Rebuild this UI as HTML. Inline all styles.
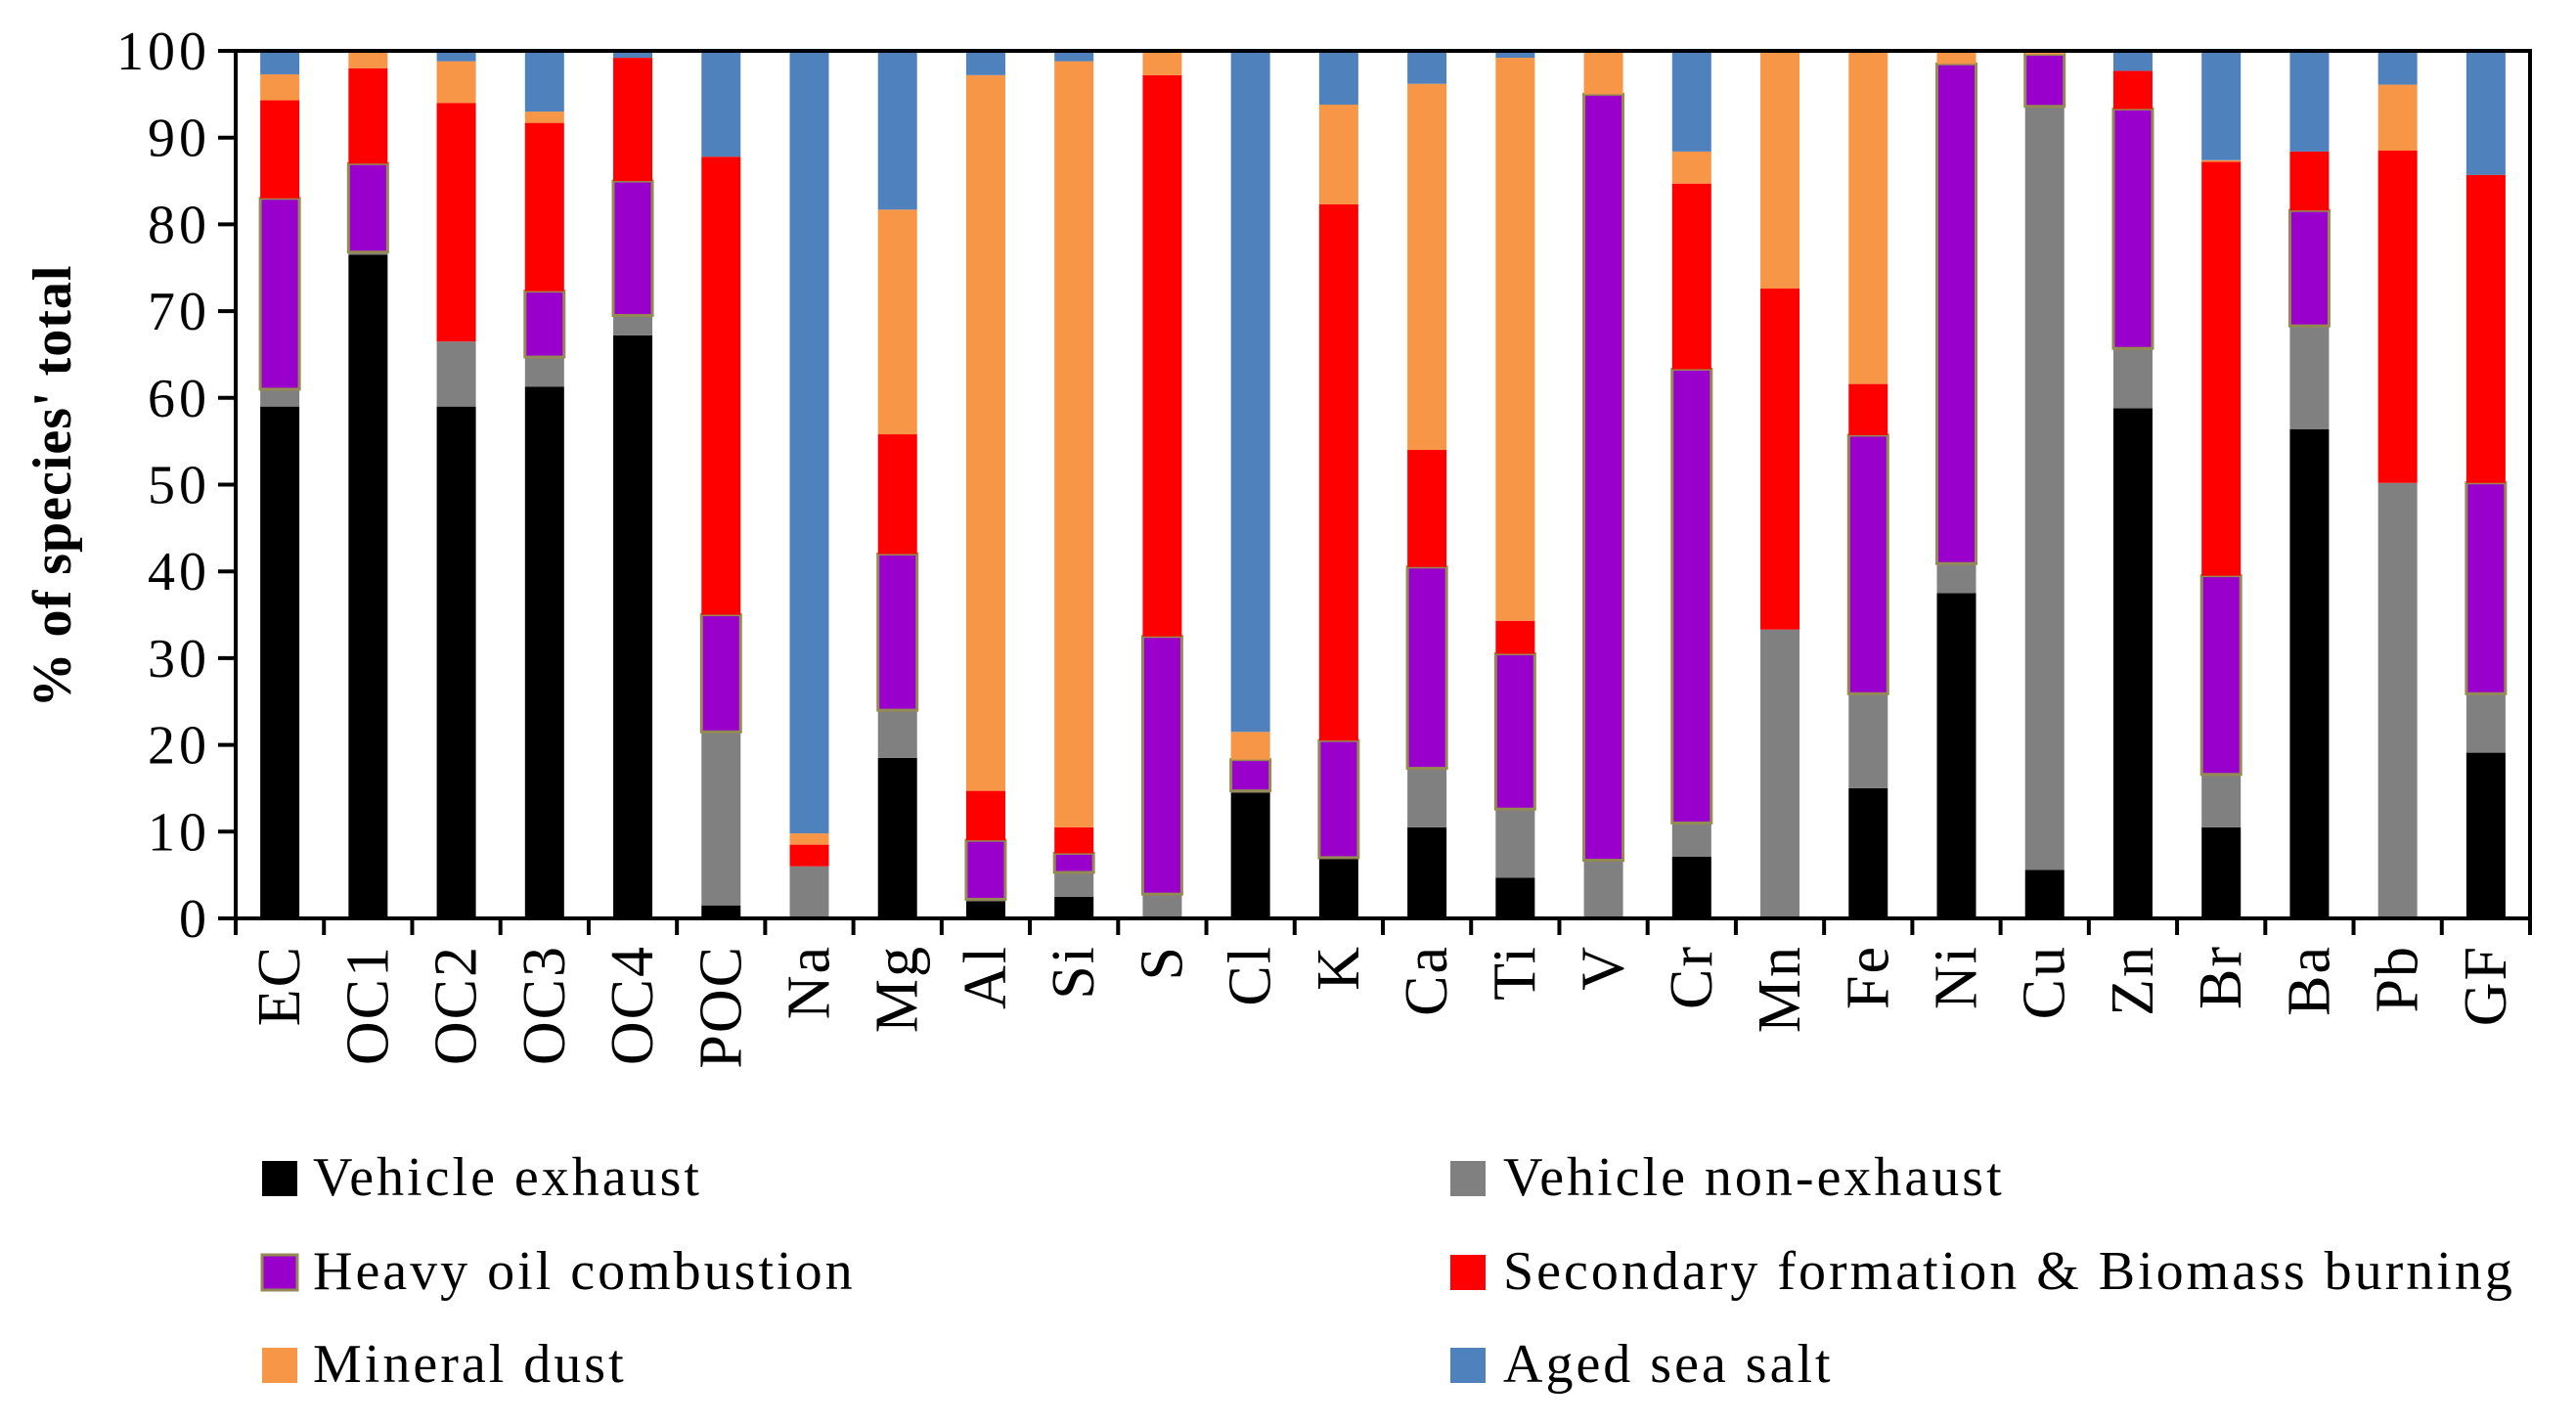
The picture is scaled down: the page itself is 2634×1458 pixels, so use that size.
<!DOCTYPE html>
<html><head><meta charset="utf-8"><style>
html,body{margin:0;padding:0;background:#fff;}
svg{display:block;}
text{font-family:"Liberation Serif",serif;}
</style></head><body>
<svg id="chart" width="2634" height="1458" viewBox="0 0 2634 1458" xmlns="http://www.w3.org/2000/svg">
<g id="plot"></g>
<text transform="translate(72,497) rotate(-90)" text-anchor="middle" font-size="56" font-weight="bold" letter-spacing="1">% of species' total</text>
<g font-size="56" letter-spacing="3">
 <g><rect x="268" y="1187" width="36" height="36" fill="#000"/><text x="320" y="1222">Vehicle exhaust</text></g>
 <g><rect x="1483" y="1187" width="36" height="36" fill="#808080"/><text x="1537" y="1222">Vehicle non-exhaust</text></g>
 <g><rect x="268" y="1283" width="36" height="36" fill="#9900cc" stroke="#948a54" stroke-width="3"/><text x="320" y="1318">Heavy oil combustion</text></g>
 <g><rect x="1483" y="1283" width="36" height="36" fill="#ff0000"/><text x="1537" y="1318">Secondary formation &amp; Biomass burning</text></g>
 <g><rect x="268" y="1378" width="36" height="36" fill="#f79646"/><text x="320" y="1413">Mineral dust</text></g>
 <g><rect x="1483" y="1378" width="36" height="36" fill="#4f81bd"/><text x="1537" y="1413">Aged sea salt</text></g>
</g>
</svg>
<script>
const categories = ["EC","OC1","OC2","OC3","OC4","POC","Na","Mg","Al","Si","S","Cl","K","Ca","Ti","V","Cr","Mn","Fe","Ni","Cu","Zn","Br","Ba","Pb","GF"];
const vehicleExhaust = [59,76.5,59,61.3,67.2,1.5,0,18.5,2,2.5,0,14.5,7,10.5,4.7,0,7.1,0,15,37.5,5.6,58.8,10.5,56.4,0,19.1];
const vehicleNonExhaust = [2,0.3,7.5,3.4,2.3,20,6,5.5,0.2,2.8,2.8,0.2,0,6.8,7.9,6.7,3.9,33.3,10.9,3.4,88,6.9,6.1,11.9,50.2,6.8];
const heavyOil = [22,10.2,0,7.6,15.5,13.5,0,18,6.8,2.2,29.7,3.6,13.5,23.2,17.9,88.3,52.3,0,29.8,57.6,6,27.6,22.9,13.3,0,24.3];
const secondary = [11.3,11,27.5,19.4,14.2,52.8,2.5,13.8,5.7,3,64.7,0,61.8,13.5,3.8,0,21.4,39.3,5.9,0,0,4.4,47.7,6.8,38.3,35.5];
const mineralDust = [3,2,4.8,1.3,0,0,1.3,25.9,82.5,88.3,2.8,3.2,11.5,42.2,64.9,5,3.7,27.4,38.4,1.5,0.4,0,0.2,0,7.6,0];
const agedSeaSalt = [2.7,0,1.2,7,0.8,12.2,90.2,18.3,2.8,1.2,0,78.5,6.2,3.8,0.8,0,11.6,0,0,0,0,2.3,12.6,11.6,3.9,14.3];
const yTicks = [0,10,20,30,40,50,60,70,80,90,100];

const series = [
  {name:"vehicle-exhaust", vals:vehicleExhaust, fill:"#000000", stroke:null},
  {name:"vehicle-non-exhaust", vals:vehicleNonExhaust, fill:"#808080", stroke:null},
  {name:"heavy-oil-combustion", vals:heavyOil, fill:"#9900cc", stroke:"#948a54"},
  {name:"secondary-formation", vals:secondary, fill:"#ff0000", stroke:null},
  {name:"mineral-dust", vals:mineralDust, fill:"#f79646", stroke:null},
  {name:"aged-sea-salt", vals:agedSeaSalt, fill:"#4f81bd", stroke:null}
];
const L=241, R=2587, T=52, B=939;
const NS="http://www.w3.org/2000/svg";
const step=(R-L)/categories.length, bw=40;
const y=v=>B-(v/100)*(B-T);
const xc=i=>L+step*(i+0.5);
const plot=document.getElementById('plot');
function mk(tag,attrs,parent){const e=document.createElementNS(NS,tag);for(const k in attrs)e.setAttribute(k,attrs[k]);(parent||plot).appendChild(e);return e;}

categories.forEach((c,i)=>{
  let acc=0;
  series.forEach(s=>{
    const v=s.vals[i];
    if(v>0){
      const r=mk('rect',{x:xc(i)-bw/2,y:y(acc+v),width:bw,height:y(acc)-y(acc+v),fill:s.fill});
      
      
      if(s.stroke){r.setAttribute('stroke',s.stroke);r.setAttribute('stroke-width','3');}
    }
    acc+=v;
  });
  const t=mk('text',{transform:`translate(${xc(i)+20},966) rotate(-90)`,'text-anchor':'end','font-size':'62','letter-spacing':'2'});
  t.textContent=c;
  
  
});
const frame=mk('rect',{x:L,y:T,width:R-L,height:B-T,fill:'none',stroke:'#000','stroke-width':'4'});


yTicks.forEach(v=>{
  const tk=mk('line',{x1:L-18,x2:L,y1:y(v),y2:y(v),stroke:'#000','stroke-width':'4'});
  
  
  const lb=mk('text',{x:L-26,y:y(v)+19,'text-anchor':'end','font-size':'56','letter-spacing':'4'});
  lb.textContent=v;
  
  
});
for(let i=0;i<=categories.length;i++){
  const tk=mk('line',{x1:L+step*i,x2:L+step*i,y1:B,y2:B+17,stroke:'#000','stroke-width':'4'});
  
  
}
</script>
</body></html>
